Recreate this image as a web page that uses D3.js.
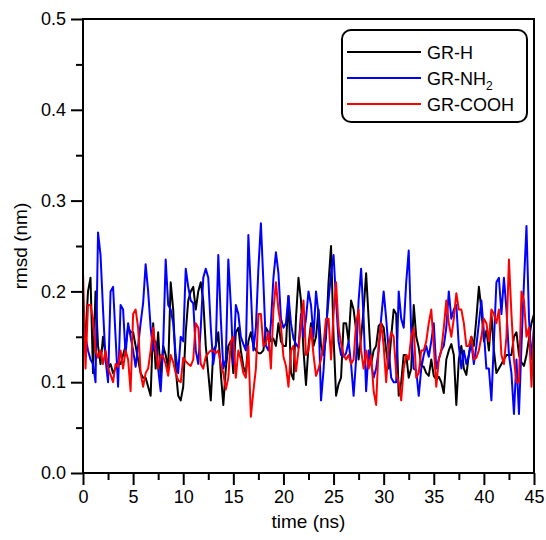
<!DOCTYPE html>
<html>
<head>
<meta charset="utf-8">
<script src="https://cdn.jsdelivr.net/npm/d3@7"></script>
<style>
  html, body { margin: 0; padding: 0; background: #fff; }
  svg { display: block; }
  text { font-family: "Liberation Sans", Arial, sans-serif; }
</style>
</head>
<body>
<svg id="chart" width="546" height="540"></svg>
<script>
// ---- data (time step 0.25 ns, 0..45 ns) ----
const timeStep = 0.25;
const seriesNames = ["GR-H", "GR-NH2", "GR-COOH"];
const seriesColors = ["#000000", "#0000ff", "#ff0000"];
const xTicks = [0, 5, 10, 15, 20, 25, 30, 35, 40, 45];
const yTicks = [0.0, 0.1, 0.2, 0.3, 0.4, 0.5];

const grH = [
  0.165,0.15,0.20,0.215,0.11,0.20,0.14,0.12,0.15,0.13,
  0.115,0.12,0.11,0.115,0.12,0.12,0.13,0.14,0.16,0.155,
  0.155,0.14,0.125,0.11,0.105,0.105,0.095,0.085,0.165,0.115,
  0.155,0.105,0.14,0.13,0.115,0.21,0.18,0.115,0.085,0.08,
  0.095,0.155,0.19,0.20,0.205,0.18,0.2,0.21,0.19,0.14,
  0.11,0.08,0.135,0.14,0.155,0.11,0.075,0.115,0.14,0.145,
  0.11,0.155,0.16,0.135,0.117,0.11,0.145,0.155,0.14,0.135,
  0.132,0.132,0.135,0.16,0.155,0.145,0.148,0.14,0.165,0.145,
  0.14,0.14,0.195,0.11,0.103,0.17,0.215,0.19,0.135,0.097,
  0.14,0.165,0.14,0.15,0.18,0.14,0.13,0.15,0.21,0.25,
  0.15,0.085,0.098,0.105,0.165,0.165,0.145,0.19,0.18,0.158,
  0.125,0.15,0.18,0.22,0.17,0.12,0.135,0.14,0.162,0.165,
  0.16,0.135,0.115,0.15,0.18,0.175,0.085,0.1,0.13,0.13,
  0.105,0.115,0.185,0.15,0.138,0.118,0.117,0.11,0.107,0.125,
  0.107,0.103,0.106,0.1,0.088,0.125,0.135,0.142,0.13,0.075,
  0.125,0.14,0.115,0.108,0.13,0.15,0.14,0.17,0.205,0.18,
  0.145,0.157,0.135,0.175,0.135,0.11,0.115,0.12,0.125,0.13,
  0.13,0.13,0.15,0.155,0.13,0.122,0.118,0.13,0.148,0.165,0.175
];
const grNH2 = [
  0.17,0.15,0.135,0.125,0.12,0.10,0.265,0.24,0.18,0.125,
  0.10,0.2,0.205,0.15,0.095,0.185,0.18,0.13,0.165,0.15,
  0.135,0.117,0.14,0.165,0.187,0.23,0.2,0.16,0.135,0.145,
  0.115,0.09,0.14,0.235,0.185,0.18,0.165,0.13,0.11,0.15,
  0.145,0.225,0.205,0.19,0.187,0.135,0.12,0.16,0.215,0.225,
  0.215,0.16,0.12,0.14,0.24,0.17,0.115,0.125,0.235,0.185,
  0.12,0.185,0.175,0.15,0.142,0.135,0.262,0.2,0.135,0.16,
  0.225,0.275,0.21,0.14,0.135,0.165,0.215,0.243,0.22,0.17,
  0.16,0.165,0.195,0.165,0.148,0.142,0.138,0.175,0.15,0.17,
  0.2,0.185,0.15,0.2,0.175,0.08,0.113,0.16,0.19,0.22,
  0.24,0.19,0.145,0.13,0.128,0.132,0.145,0.12,0.085,0.125,
  0.19,0.225,0.17,0.09,0.135,0.12,0.105,0.115,0.135,0.17,
  0.2,0.17,0.135,0.105,0.1,0.1,0.2,0.17,0.16,0.21,
  0.245,0.155,0.115,0.113,0.085,0.115,0.13,0.14,0.128,0.145,
  0.165,0.115,0.125,0.135,0.14,0.16,0.2,0.17,0.18,0.185,
  0.14,0.115,0.135,0.12,0.13,0.143,0.12,0.14,0.165,0.19,
  0.155,0.115,0.115,0.08,0.145,0.21,0.215,0.175,0.215,0.18,
  0.13,0.11,0.065,0.125,0.065,0.14,0.21,0.272,0.17,0.125,0.16
];
const grCOOH = [
  0.222,0.115,0.185,0.185,0.17,0.135,0.127,0.135,0.12,0.135,
  0.115,0.108,0.10,0.12,0.117,0.135,0.115,0.135,0.125,0.09,
  0.175,0.18,0.16,0.11,0.095,0.11,0.115,0.135,0.16,0.135,
  0.115,0.13,0.128,0.12,0.107,0.13,0.122,0.11,0.102,0.10,
  0.127,0.123,0.12,0.118,0.125,0.165,0.16,0.12,0.115,0.128,
  0.132,0.135,0.135,0.132,0.135,0.12,0.11,0.092,0.105,0.145,
  0.15,0.105,0.135,0.125,0.11,0.105,0.14,0.062,0.09,0.115,
  0.175,0.175,0.14,0.143,0.155,0.115,0.18,0.21,0.18,0.162,
  0.128,0.118,0.095,0.135,0.14,0.112,0.135,0.165,0.19,0.13,
  0.135,0.16,0.13,0.107,0.115,0.125,0.142,0.17,0.17,0.125,
  0.175,0.21,0.16,0.143,0.13,0.125,0.13,0.12,0.125,0.165,
  0.18,0.135,0.115,0.135,0.115,0.13,0.09,0.075,0.14,0.165,
  0.14,0.1,0.14,0.155,0.15,0.11,0.1,0.08,0.115,0.13,
  0.125,0.15,0.16,0.105,0.11,0.135,0.135,0.145,0.165,0.18,
  0.14,0.095,0.125,0.135,0.16,0.19,0.165,0.15,0.17,0.198,
  0.18,0.18,0.165,0.14,0.14,0.15,0.125,0.127,0.135,0.15,
  0.17,0.165,0.145,0.18,0.175,0.165,0.18,0.13,0.12,0.15,
  0.235,0.175,0.125,0.1,0.1,0.2,0.19,0.15,0.16,0.095,0.16
];
const seriesValues = [grH, grNH2, grCOOH];

// ---- layout ----
const svg = d3.select("#chart");
const plotLeft = 83, plotRight = 534, plotTop = 19, plotBottom = 473;

const x = d3.scaleLinear().domain([0, 45]).range([plotLeft, plotRight]);
const y = d3.scaleLinear().domain([0, 0.5]).range([plotBottom, plotTop]);

// series lines (drawn first, frame on top)
const line = d3.line()
  .x((d, i) => x(i * timeStep))
  .y(d => y(d));

svg.append("g").selectAll("path")
  .data(seriesValues)
  .join("path")
  .attr("d", d => line(d))
  .attr("fill", "none")
  .attr("stroke", (d, i) => seriesColors[i])
  .attr("stroke-width", 2)
  .attr("stroke-linejoin", "round");

// frame
svg.append("rect")
  .attr("x", plotLeft).attr("y", plotTop)
  .attr("width", plotRight - plotLeft).attr("height", plotBottom - plotTop)
  .attr("fill", "none").attr("stroke", "#000").attr("stroke-width", 2);

// ticks
const xMinor = d3.range(2.5, 45, 5);
const yMinor = [0.05, 0.15, 0.25, 0.35, 0.45];

svg.append("g")
  .attr("transform", `translate(0,${plotBottom})`)
  .call(d3.axisBottom(x).tickValues(xTicks).tickSize(12).tickPadding(5).tickFormat(d3.format("d")));
svg.append("g")
  .attr("transform", `translate(0,${plotBottom})`)
  .call(d3.axisBottom(x).tickValues(xMinor).tickSize(7).tickFormat(""));
svg.append("g")
  .attr("transform", `translate(${plotLeft},0)`)
  .call(d3.axisLeft(y).tickValues(yTicks).tickSize(12).tickPadding(5).tickFormat(d3.format(".1f")));
svg.append("g")
  .attr("transform", `translate(${plotLeft},0)`)
  .call(d3.axisLeft(y).tickValues(yMinor).tickSize(7).tickFormat(""));

svg.selectAll(".domain").remove();
svg.selectAll(".tick line").attr("stroke", "#000").attr("stroke-width", 2);
svg.selectAll(".tick text").attr("font-size", 18).attr("fill", "#000")
  .style("font-family", '"Liberation Sans", Arial, sans-serif');

// axis titles
svg.append("text")
  .attr("x", (plotLeft + plotRight) / 2).attr("y", 528)
  .attr("text-anchor", "middle").attr("font-size", 19)
  .text("time (ns)");
svg.append("text")
  .attr("transform", `translate(27,${(plotTop + plotBottom) / 2}) rotate(-90)`)
  .attr("text-anchor", "middle").attr("font-size", 19)
  .text("rmsd (nm)");

// legend
const lg = svg.append("g");
lg.append("rect")
  .attr("x", 342).attr("y", 30).attr("width", 185).attr("height", 92)
  .attr("rx", 9).attr("ry", 9)
  .attr("fill", "#fff").attr("stroke", "#000").attr("stroke-width", 2);
const rowsY = [52, 78, 104];
seriesNames.forEach((name, i) => {
  lg.append("line")
    .attr("x1", 347).attr("x2", 421)
    .attr("y1", rowsY[i]).attr("y2", rowsY[i])
    .attr("stroke", seriesColors[i]).attr("stroke-width", 2);
  const t = lg.append("text")
    .attr("x", 427).attr("y", rowsY[i] + 6.5)
    .attr("font-size", 18).attr("fill", "#000");
  if (name === "GR-NH2") {
    t.append("tspan").text("GR-NH");
    t.append("tspan").attr("dy", 5).attr("font-size", 12).text("2");
  } else {
    t.text(name);
  }
});
</script>
</body>
</html>
